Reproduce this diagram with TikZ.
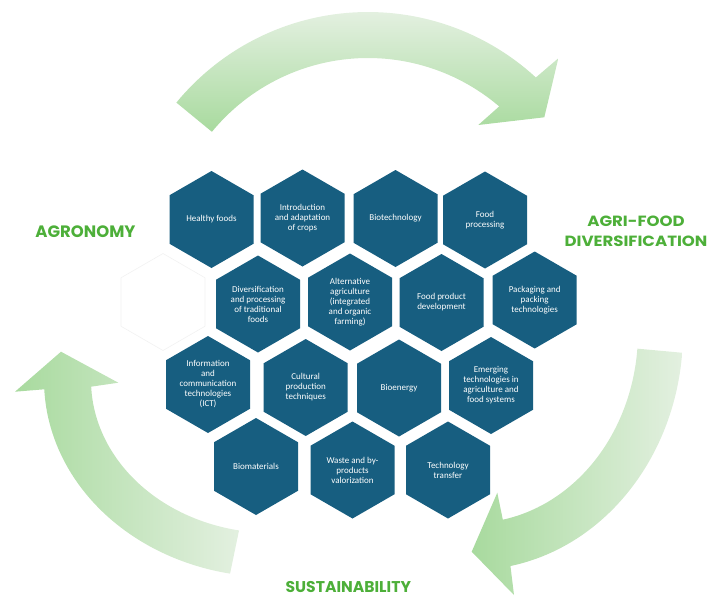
\documentclass[tikz,border=0pt]{standalone}
\usepackage{fontspec}
\setmainfont{Carlito}
\newfontfamily\headfont{Poppins}
\newfontfamily\headwidefont{Poppins}[FakeStretch=1.12]
\usetikzlibrary{shapes.geometric}

\definecolor{hexblue}{HTML}{175E80}
\definecolor{headgreen}{HTML}{4DAF39}
\definecolor{arrowdeep}{HTML}{A8DA9E}
\definecolor{arrowpale}{HTML}{E3F0E0}

\tikzset{
  hexcell/.style={regular polygon, regular polygon sides=6, shape border rotate=30,
    minimum size=97pt, inner sep=0pt, fill=hexblue, text=white, align=center,
    font=\fontsize{9}{10}\selectfont},
  ghostcell/.style={hexcell, fill=white, draw=black!5, line width=0.6pt},
  heading/.style={text=headgreen, align=center, font=\headfont\bfseries\fontsize{#1}{20}\selectfont},
  heading/.default=15,
}

\begin{document}
\begin{tikzpicture}[x=1pt, y=-1pt]
\useasboundingbox (0,0) rectangle (711,597);

\shade[top color=arrowpale, bottom color=arrowdeep]
  plot[domain=-140.6:-47.4, samples=60] ({368+248*cos(\x)}, {260+248*sin(\x)})
  -- (558.3,58.3) -- (544.3,117.3) -- (478.3,125)
  -- plot[domain=-49.5:-140.6, samples=60] ({368+202*cos(\x)}, {260+202*sin(\x)}) -- cycle;
\shade[left color=arrowdeep, right color=arrowpale]
  plot[domain=100.5:177.5, samples=60] ({272+181*cos(\x)}, {380+153*sin(\x)})
  -- (118.3,382.7) -- (61,351.7) -- (15,391.7) -- (44.3,389.3)
  -- plot[domain=177.3:100.6, samples=60] ({272+228*cos(\x)}, {380+197*sin(\x)}) -- cycle;
\shade[left color=arrowdeep, right color=arrowpale]
  plot[domain=5:79.5, samples=60] ({472+211*cos(\x)}, {332+238*sin(\x)})
  -- (514,595) -- (471.7,551.7) -- (497.3,492.7)
  -- plot[domain=79.3:5, samples=60] ({472+166*cos(\x)}, {332+191*sin(\x)}) -- cycle;

\node[ghostcell] (ghost) at (163,302) {};

\node[hexcell] (healthy) at (211.5,219.5) {Healthy foods};
\node[hexcell] (crops) at (302.5,218) {Introduction\\and adaptation\\of crops};
\node[hexcell] (biotech) at (395.5,218.5) {Biotechnology};
\node[hexcell] (processing) at (485,220) {Food\\processing};

\node[hexcell] (traditional) at (258,304) {Diversification\\and processing\\of traditional\\foods};
\node[hexcell] (alternative) at (350,302) {Alternative\\agriculture\\(integrated\\and organic\\farming)};
\node[hexcell] (product) at (441.5,302.5) {Food product\\development};
\node[hexcell] (packaging) at (534.7,300) {Packaging and\\packing\\technologies};

\node[hexcell] (ict) at (208,384.5) {Information\\and\\communication\\technologies\\(ICT)};
\node[hexcell] (cultural) at (305.7,387.5) {Cultural\\production\\techniques};
\node[hexcell] (bioenergy) at (399,388) {Bioenergy};
\node[hexcell] (emerging) at (491,385.5) {Emerging\\technologies in\\agriculture and\\food systems};

\node[hexcell] (biomaterials) at (256,466.5) {Biomaterials};
\node[hexcell] (waste) at (352.5,470) {Waste and by-\\products\\valorization};
\node[hexcell] (transfer) at (448,470) {Technology\\transfer};

\node[heading=16.5] (agronomy) at (85.5,231.7) {AGRONOMY};
\node[heading, font=\headwidefont\bfseries\fontsize{14.8}{20}\selectfont] (diversification) at (636,231) {AGRI-FOOD\\DIVERSIFICATION};
\node[heading=15.6] (sustainability) at (348.3,587) {SUSTAINABILITY};
\end{tikzpicture}
\end{document}
